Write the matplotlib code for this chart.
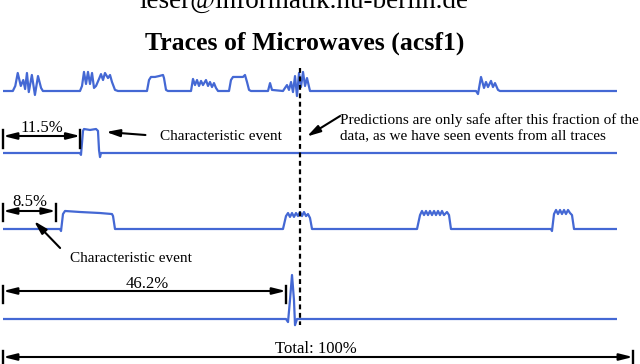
import matplotlib
matplotlib.use("Agg")
import matplotlib.pyplot as plt

# ---------------- data (time in % of recording, amplitude normalised) ----------------
t1 = [0, 1.6, 2.0, 2.4, 2.9, 3.3, 3.6, 3.9, 4.2, 4.7, 5.2, 5.7, 6.2, 6.5,
      12.54, 12.87, 13.19, 13.52, 13.84, 14.17, 14.50, 14.82, 15.15, 15.64, 15.96, 16.29, 16.61, 17.10, 17.43, 17.75, 18.24, 18.73,
      23.45, 23.78, 24.10, 24.76, 25.41, 26.06, 26.22, 26.55, 26.87,
      30.62, 30.94, 31.27, 31.60, 31.92, 32.25, 32.57, 33.06, 33.39, 33.71, 34.04, 34.36, 34.69, 35.02,
      36.81, 37.13, 37.46, 38.27, 39.09, 39.41, 39.74, 40.07, 40.39,
      43.16, 43.49, 43.81, 45.60, 45.93, 46.25, 46.58, 46.91, 47.23, 47.56, 47.88, 48.21, 48.53, 48.86, 49.19, 49.51, 50.0,
      77.04, 77.36, 77.85, 78.34, 78.66, 78.99, 79.48, 79.80, 80.13, 80.62, 80.94, 100]
v1 = [0, 0, .28, 1.0, .28, .61, .11, 1.0, -.06, .89, -.22, .83, .17, 0,
      0, .28, 1.06, .39, 1.06, .39, 1.0, .17, .28, .67, .94, .61, 1.0, .72, .89, .5, .06, 0,
      0, .61, .78, .78, .83, .89, .72, .06, 0,
      0, .67, .33, .61, .28, .56, .33, .61, .28, .5, .22, .44, .17, 0,
      0, .61, .78, .78, .78, .89, .5, .06, 0,
      0, .44, .06, 0, .17, .33, .06, .5, -.06, .83, -.28, 1.0, .22, 1.06, .28, .72, 0,
      0, -.17, .78, .17, .5, .22, .56, .22, .44, .06, 0, 0]

t2 = [0, 12.54, 12.70, 13.03, 13.19, 14.17, 15.15, 15.47, 15.64, 15.80, 15.96, 100]
v2 = [0, 0, -.08, .92, 1.0, .96, 1.0, .92, .12, -.17, 0, 0]

t3 = [0, 9.28, 9.45, 9.77, 10.10, 12.54, 15.80, 17.75, 17.92, 18.24,
      45.60, 46.09, 46.42, 46.74, 47.07, 47.39, 47.72, 48.05, 48.37, 48.70, 49.02, 49.35, 49.67, 50.0, 50.33,
      67.43, 67.92, 68.24, 68.57, 68.89, 69.22, 69.54, 69.87, 70.20, 70.52, 70.85, 71.17, 71.50, 71.82, 72.31, 72.64, 72.96,
      89.25, 89.41, 89.74, 90.07, 90.39, 90.72, 91.04, 91.37, 91.69, 92.02, 92.35, 92.67, 93.00, 100]
v3 = [0, 0, -.12, .88, 1.06, 1.0, .94, .88, .76, 0,
      0, .76, .94, .71, .94, .71, .94, .76, 1.0, .76, 1.0, .76, .88, .65, 0,
      0, .82, 1.06, .82, 1.06, .82, 1.06, .82, 1.06, .82, 1.06, .82, 1.06, .82, 1.0, .82, 0,
      0, -.12, .88, 1.12, .88, 1.12, .88, 1.12, .88, 1.12, .94, .82, 0, 0]

t4 = [0, 46.09, 46.42, 46.74, 47.07, 47.39, 47.56, 47.88, 100]
v4 = [0, 0, -.07, .43, 1.0, .43, -.14, 0, 0]

traces = [(t1, v1), (t2, v2), (t3, v3), (t4, v4)]

safe_fraction = 48.4          # position of dashed line (% of data)
span_labels = ["11.5%", "8.5%", "46.2%"]
span_ends = [12.6, 8.6, 46.1]
total_label = "Total: 100%"
total_end = 102.6

# ---------------- layout ----------------
W, H = 640, 364
fig = plt.figure(figsize=(6.4, 3.64), dpi=100)
LINE = '#4468d4'
SERIF = ['Liberation Serif', 'DejaVu Serif']

x0px, x1px = 3, 617
baselines = [91, 153, 229, 319]   # pixel rows of trace baselines
scales = [18, 24, 17, 44]         # pixels per amplitude unit
for (t, v), B, s in zip(traces, baselines, scales):
    ax = fig.add_axes([x0px / W, 1 - (B + 12) / H, (x1px - x0px) / W, 62 / H])
    ax.plot(t, v, color=LINE, lw=1.6, solid_joinstyle='round')
    ax.set_xlim(0, 100)
    ax.set_ylim(-12 / s, 50 / s)
    ax.axis('off')

ov = fig.add_axes([0, 0, 1, 1])
ppx = (x1px - x0px) / 100.0
ov.set_xlim(-x0px / ppx, (W - x0px) / ppx)
ov.set_ylim(H, 0)
ov.axis('off')

fs = 11
fs_span = 12
ov.text(49.0, 8, "leser@informatik.hu-berlin.de", family=SERIF, fontsize=19.5,
        ha='center', va='baseline')
ov.text(49.2, 43, "Traces of Microwaves (acsf1)", family=SERIF, fontsize=18.5,
        fontweight='bold', ha='center', va='center')

# dashed line
ov.plot([safe_fraction, safe_fraction], [68, 325], color='black', lw=1.6,
        dashes=(2.2, 1.6))


def span(x_end, y, ytop, ybot, label, ylab, xlab):
    ov.annotate('', xy=(x_end, y), xytext=(0, y),
                arrowprops=dict(arrowstyle='<|-|>,head_length=0.8,head_width=0.2',
                                color='black', lw=1.5, shrinkA=0, shrinkB=0))
    ov.plot([0, 0], [ytop, ybot], color='black', lw=1.7)
    ov.plot([x_end, x_end], [ytop, ybot], color='black', lw=1.7)
    ov.text(xlab, ylab, label, family=SERIF, fontsize=fs_span, ha='center', va='center')


span(span_ends[0], 136, 130, 148, span_labels[0], 128, 6.3)
span(span_ends[1], 211, 204, 221, span_labels[1], 202, 4.4)
span(span_ends[2], 291, 286, 303, span_labels[2], 284, 23.45)
span(total_end, 357, 351, 366, total_label, 349, 51.0)

arrow_kw = dict(arrowstyle='-|>,head_length=0.8,head_width=0.22', color='black',
                lw=1.5, shrinkA=0, shrinkB=0)
ov.text(25.6, 136, "Characteristic event", family=SERIF, fontsize=fs,
        ha='left', va='center')
ov.annotate('', xy=(16.8, 132), xytext=(23.2, 135), arrowprops=arrow_kw)

ov.text(10.9, 258, "Characteristic event", family=SERIF, fontsize=fs,
        ha='left', va='center')
ov.annotate('', xy=(5.05, 221), xytext=(9.3, 248), arrowprops=arrow_kw)

ov.text(54.9, 120, "Predictions are only safe after this fraction of the",
        family=SERIF, fontsize=fs, ha='left', va='center')
ov.text(54.9, 136.7, "data, as we have seen events from all traces",
        family=SERIF, fontsize=fs, ha='left', va='center')
ov.annotate('', xy=(49.5, 136.5), xytext=(54.9, 116), arrowprops=arrow_kw)

fig.savefig("out.png", dpi=100)
